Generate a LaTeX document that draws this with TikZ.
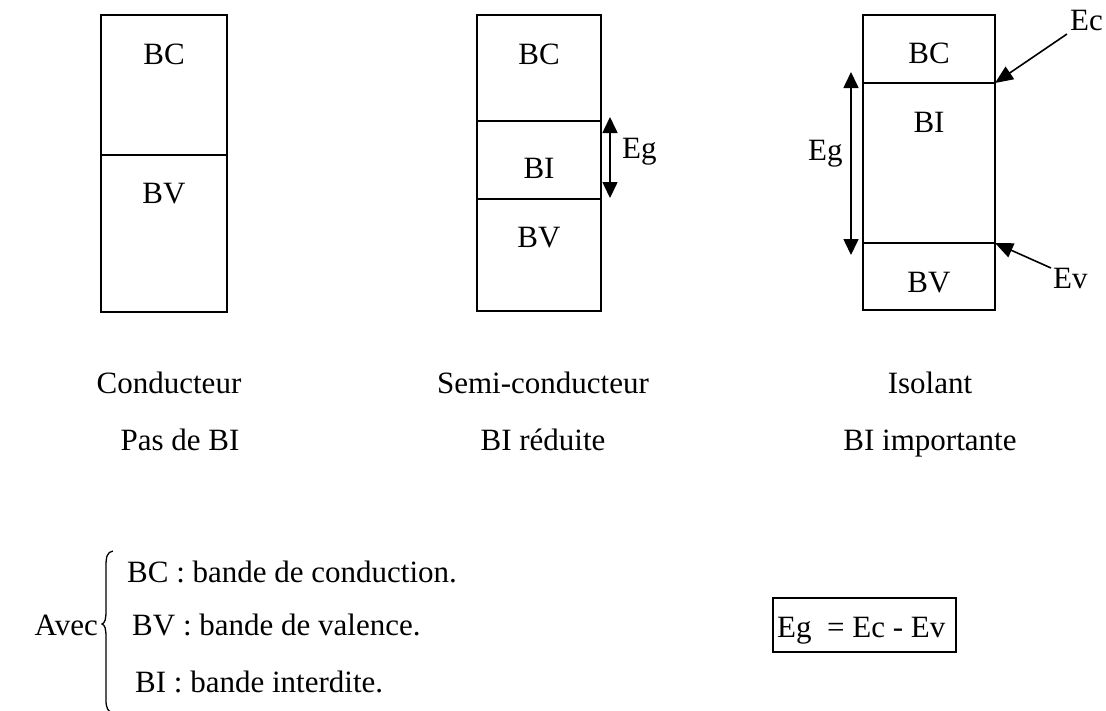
\documentclass[tikz,border=0pt]{standalone}
\usepackage{fontspec}
\setmainfont{Liberation Serif}
\usetikzlibrary{arrows.meta}
\begin{document}
\begin{tikzpicture}[x=1pt,y=-1pt,
  band/.style={draw, line width=1.8pt},
  level/.style={line width=1.6pt},
  txt/.style={anchor=base, inner sep=0pt, font=\fontsize{31}{37}\selectfont},
  txtw/.style={txt, anchor=base west},
  txte/.style={txt, anchor=base east},
  tip/.style={Triangle[width=15pt,length=16pt]},
  garrow/.style={line width=1.6pt, {Triangle[width=15pt,length=16pt]}-{Triangle[width=15pt,length=16pt]}},
  parrow/.style={line width=1.6pt, -{Triangle[width=15pt,length=18pt]}}]
\useasboundingbox (0,0) rectangle (1106,710);

% Box 1 : conducteur
\draw[band] (101,15) coordinate (b1tl) rectangle (227,312) coordinate (b1br);
\coordinate (b1l) at (101,155); \coordinate (b1r) at (227,155);
\draw[level] (b1l) -- (b1r);
\node[txt] (bc1) at (164,64) {BC};
\node[txt] (bv1) at (164,203) {BV};

% Box 2 : semi-conducteur
\draw[band] (477,15) coordinate (b2tl) rectangle (601,311) coordinate (b2br);
\coordinate (b2cl) at (477,121); \coordinate (b2cr) at (601,121);
\coordinate (b2vl) at (477,199); \coordinate (b2vr) at (601,199);
\draw[level] (b2cl) -- (b2cr);
\draw[level] (b2vl) -- (b2vr);
\node[txt] (bc2) at (539,64) {BC};
\node[txt] (bi2) at (539,178) {BI};
\node[txt] (bv2) at (539,247) {BV};
\coordinate (e2t) at (610,117); \coordinate (e2b) at (610,198);
\draw[garrow] (e2t) -- (e2b);
\node[txtw] (eg2) at (622,158) {Eg};

% Box 3 : isolant
\draw[band] (863,15) coordinate (b3tl) rectangle (995,310) coordinate (b3br);
\coordinate (b3cl) at (863,83); \coordinate (b3cr) at (995,83);
\coordinate (b3vl) at (863,243); \coordinate (b3vr) at (995,243);
\draw[level] (b3cl) -- (b3cr);
\draw[level] (b3vl) -- (b3vr);
\node[txt] (bc3) at (929,63) {BC};
\node[txt] (bi3) at (929,132) {BI};
\node[txt] (bv3) at (929,292) {BV};
\coordinate (e3t) at (851,72); \coordinate (e3b) at (851,255);
\draw[garrow] (e3t) -- (e3b);
\node[txtw] (eg3) at (808,160) {Eg};
\node[txtw] (ec) at (1070,30) {Ec};
\node[txtw] (ev) at (1053,288) {Ev};
\coordinate (ect) at (1067,34); \coordinate (evt) at (1051,268);
\draw[parrow] (ect) -- (b3cr);
\draw[parrow] (evt) -- (b3vr);

% Labels
\node[txt] (cond) at (169,393) {Conducteur};
\node[txt] (pasbi) at (180,450) {Pas de BI};
\node[txt] (semi) at (543,393) {Semi-conducteur};
\node[txt] (bired) at (543,450) {BI réduite};
\node[txt] (isol) at (930,393) {Isolant};
\node[txt] (biimp) at (930,450) {BI importante};

% Legend
\node[txte] (avec) at (98,635) {Avec};
\draw[line width=1.3pt] (113,551) .. controls (107,552) and (106,557) .. (106,566)
  -- (106,611) .. controls (106,619) and (105,623) .. (102,624)
  .. controls (105,625) and (106,629) .. (106,637)
  -- (106,700) .. controls (106,708) and (108,712) .. (113,713);
\node[txtw] (lbc) at (127,582) {BC : bande de conduction.};
\node[txtw] (lbv) at (132,635) {BV : bande de valence.};
\node[txtw] (lbi) at (135,692) {BI : bande interdite.};

% Equation
\node[txtw] (eq) at (777,637) {Eg\ \ = Ec - Ev};
\draw[line width=1.5pt] (773,598) rectangle (956,652);
\end{tikzpicture}
\end{document}
